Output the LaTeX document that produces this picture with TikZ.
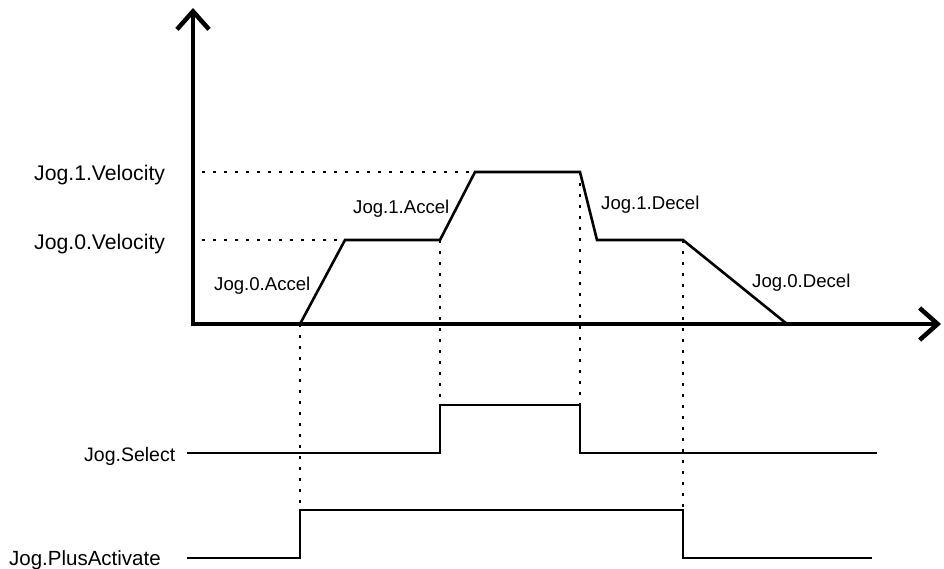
\documentclass[tikz,border=0pt]{standalone}
\usepackage{fontspec}
\setmainfont{Liberation Sans}
\usetikzlibrary{arrows.meta}
\begin{document}
\begin{tikzpicture}[x=1pt,y=-1pt,
  lbl/.style={inner sep=0pt,font=\fontsize{18.6}{22}\selectfont},
  vlbl/.style={inner sep=0pt,font=\fontsize{21.2}{24}\selectfont},
  axis/.style={line width=4.5pt,-{Straight Barb[length=18pt,width=32pt,line width=4.5pt]}},
  prof/.style={line width=2.6pt,line join=miter},
  sig/.style={line width=2.4pt,line join=miter},
  dots/.style={line width=2.6pt,dash pattern=on 2.6pt off 8.4pt,line cap=butt}]
\useasboundingbox (0,0) rectangle (944,569);
% axes
\coordinate (O) at (193,324);
\coordinate (Ytop) at (193,8);
\coordinate (Xend) at (941,324);
\draw[axis] (193,326.25) -- (Ytop);
\draw[axis] (190.75,324) -- (Xend);
% profile
\coordinate (p0) at (300,324);
\coordinate (p1) at (345,240);
\coordinate (p2) at (440,240);
\coordinate (p3) at (475,172);
\coordinate (p4) at (580,172);
\coordinate (p5) at (597,240);
\coordinate (p6) at (683,240);
\coordinate (p7) at (787,324);
\draw[prof] (p0) -- (p1) -- (p2) -- (p3) -- (p4) -- (p5) -- (p6) -- (p7);
% dotted guides
\coordinate (v1) at (202,172);
\coordinate (v0) at (202,240);
\draw[dots] (v1) -- (p3);
\draw[dots] (v0) -- (p1);
\coordinate (s1) at (440,405);
\coordinate (s2) at (580,405);
\coordinate (a1) at (300,510);
\coordinate (a2) at (683,510);
\draw[dots] (p0) -- (a1);
\draw[dots] (p2) -- (s1);
\draw[dots] (p4) -- (s2);
\draw[dots] (p6) -- (a2);
% Jog.Select
\coordinate (s0) at (187,453);
\coordinate (s3) at (877,453);
\draw[sig] (s0) -- (440,453) -- (s1) -- (s2) -- (580,453) -- (s3);
% Jog.PlusActivate
\coordinate (a0) at (187,558);
\coordinate (a3) at (872,558);
\draw[sig] (a0) -- (300,558) -- (a1) -- (a2) -- (683,558) -- (a3);
% labels
\node[vlbl,anchor=base west] (l1v) at (34,181) {Jog.1.Velocity};
\node[vlbl,anchor=base west] (l0v) at (34,249) {Jog.0.Velocity};
\node[lbl,anchor=base west] (l0a) at (214,290) {Jog.0.Accel};
\node[lbl,anchor=base west] (l1a) at (353,214) {Jog.1.Accel};
\node[lbl,anchor=base west] (l1d) at (601,210) {Jog.1.Decel};
\node[lbl,anchor=base west] (l0d) at (752,287) {Jog.0.Decel};
\node[inner sep=0pt,font=\fontsize{19.5}{23}\selectfont,anchor=base west] (ls) at (84,461) {Jog.Select};
\node[inner sep=0pt,font=\fontsize{20.5}{24}\selectfont,anchor=base west] (lp) at (9,565) {Jog.PlusActivate};
\end{tikzpicture}
\end{document}
